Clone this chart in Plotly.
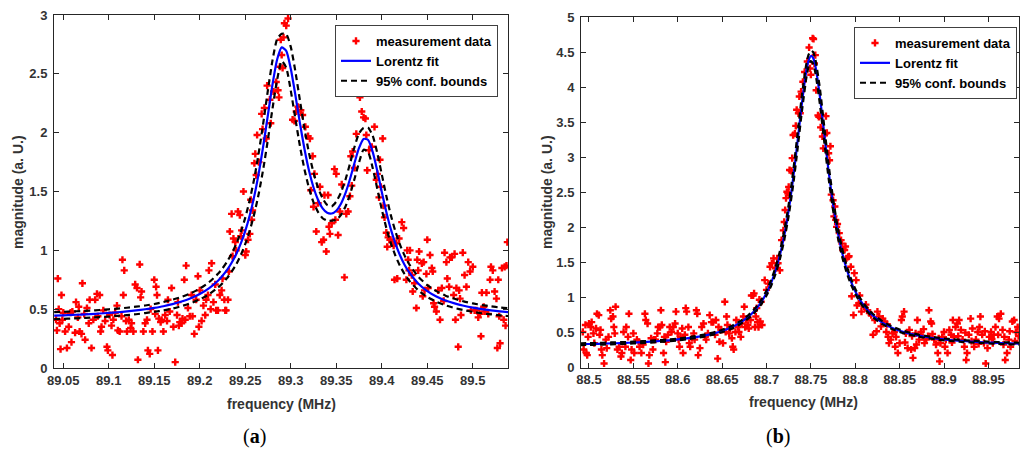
import plotly.graph_objects as go

# ---------------- Panel (a) data ----------------
freq_a = [89.042, 89.043, 89.044, 89.045, 89.046, 89.047, 89.048, 89.049, 89.050, 89.052, 89.054, 89.056, 89.058, 89.059, 89.060,
          89.063, 89.064, 89.066, 89.067, 89.068, 89.070, 89.071, 89.073, 89.074, 89.076, 89.078, 89.079, 89.081, 89.083, 89.085,
          89.087, 89.088, 89.090, 89.091, 89.092, 89.094, 89.096, 89.098, 89.099, 89.101, 89.103, 89.104, 89.105, 89.107, 89.109,
          89.110, 89.112, 89.114, 89.115, 89.116, 89.117, 89.119, 89.120, 89.122, 89.124, 89.125, 89.127, 89.129, 89.131, 89.132,
          89.134, 89.135, 89.136, 89.138, 89.140, 89.142, 89.143, 89.145, 89.146, 89.148, 89.150, 89.151, 89.152, 89.153, 89.154,
          89.155, 89.157, 89.158, 89.160, 89.162, 89.164, 89.165, 89.167, 89.169, 89.171, 89.173, 89.175, 89.176, 89.177, 89.178,
          89.180, 89.181, 89.183, 89.184, 89.185, 89.187, 89.189, 89.191, 89.192, 89.194, 89.196, 89.198, 89.199, 89.200, 89.202,
          89.204, 89.206, 89.207, 89.209, 89.210, 89.212, 89.213, 89.215, 89.217, 89.218, 89.220, 89.222, 89.224, 89.225, 89.227,
          89.228, 89.229, 89.231, 89.232, 89.233, 89.235, 89.236, 89.237, 89.239, 89.240, 89.242, 89.244, 89.245, 89.246, 89.248,
          89.250, 89.251, 89.253, 89.255, 89.256, 89.257, 89.258, 89.260, 89.261, 89.262, 89.263, 89.265, 89.268, 89.269, 89.271,
          89.273, 89.274, 89.277, 89.278, 89.281, 89.284, 89.286, 89.287, 89.288, 89.289, 89.290, 89.291, 89.292, 89.293, 89.295,
          89.297, 89.302, 89.304, 89.306, 89.308, 89.311, 89.313, 89.316, 89.319, 89.321, 89.322, 89.324, 89.325, 89.326, 89.328,
          89.330, 89.332, 89.334, 89.336, 89.337, 89.339, 89.341, 89.342, 89.343, 89.345, 89.348, 89.349, 89.350, 89.352, 89.354,
          89.356, 89.359, 89.361, 89.363, 89.365, 89.366, 89.367, 89.368, 89.370, 89.372, 89.376, 89.378, 89.380, 89.382, 89.383,
          89.384, 89.386, 89.389, 89.392, 89.394, 89.395, 89.397, 89.398, 89.399, 89.401, 89.402, 89.403, 89.405, 89.406, 89.407,
          89.409, 89.411, 89.413, 89.414, 89.416, 89.417, 89.419, 89.422, 89.424, 89.427, 89.428, 89.429, 89.430, 89.431, 89.433,
          89.434, 89.436, 89.438, 89.439, 89.440, 89.441, 89.444, 89.445, 89.446, 89.447, 89.449, 89.450, 89.451, 89.453, 89.455,
          89.456, 89.457, 89.458, 89.460, 89.462, 89.464, 89.466, 89.468, 89.469, 89.471, 89.472, 89.474, 89.475, 89.477, 89.479,
          89.480, 89.481, 89.482, 89.484, 89.485, 89.486, 89.487, 89.489, 89.491, 89.493, 89.495, 89.497, 89.498, 89.500, 89.502,
          89.504, 89.506, 89.508, 89.509, 89.510, 89.512, 89.513, 89.515, 89.517, 89.519, 89.520, 89.522, 89.524, 89.526, 89.527,
          89.528, 89.529, 89.530, 89.532, 89.534, 89.535, 89.536, 89.537, 89.538]
mag_a = [0.41, 0.32, 0.76, 0.50, 0.38, 0.16, 0.62, 0.41, 0.47, 0.31, 0.17, 0.35, 0.47, 0.22, 0.48,
         0.30, 0.56, 0.43, 0.52, 0.31, 0.29, 0.72, 0.46, 0.24, 0.51, 0.38, 0.58, 0.17, 0.41, 0.58,
         0.63, 0.44, 0.62, 0.31, 0.35, 0.49, 0.40, 0.18, 0.15, 0.45, 0.36, 0.11, 0.41, 0.47, 0.53,
         0.32, 0.31, 0.44, 0.92, 0.62, 0.83, 0.40, 0.31, 0.41, 0.34, 0.38, 0.31, 0.71, 0.68, 0.07,
         0.88, 0.60, 0.65, 0.31, 0.38, 0.41, 0.15, 0.12, 0.50, 0.31, 0.75, 0.46, 0.69, 0.62, 0.15,
         0.42, 0.39, 0.41, 0.31, 0.45, 0.40, 0.58, 0.48, 0.68, 0.35, 0.05, 0.45, 0.56, 0.36, 0.39,
         0.38, 0.42, 0.75, 0.41, 0.87, 0.51, 0.44, 0.62, 0.44, 0.29, 0.58, 0.78, 0.35, 0.66, 0.40,
         0.53, 0.45, 0.58, 0.62, 0.83, 0.50, 0.89, 0.56, 0.71, 0.49, 0.49, 0.62, 0.66, 0.76, 0.58,
         0.49, 0.49, 0.58, 0.82, 1.16, 1.31, 0.95, 1.10, 1.07, 1.00, 1.33, 1.30, 1.12, 1.17, 1.50,
         0.96, 0.99, 1.09, 1.14, 1.43, 1.26, 1.34, 1.74, 1.82, 1.64, 1.98, 1.75, 2.16, 2.03, 2.21,
         1.95, 2.40, 2.28, 2.08, 2.35, 2.43, 2.36, 2.30, 2.56, 2.79, 2.66, 2.55, 2.81, 2.93, 2.91,
         2.97, 2.11, 2.10, 2.18, 2.22, 2.19, 2.15, 2.05, 1.97, 1.95, 1.51, 1.80, 1.37, 1.65, 1.16,
         1.40, 1.54, 1.07, 1.09, 1.47, 0.99, 1.47, 1.20, 1.14, 1.23, 1.69, 1.26, 1.65, 1.13, 1.33,
         1.56, 0.77, 1.31, 1.33, 1.46, 1.80, 1.55, 1.84, 1.70, 1.99, 2.30, 2.18, 2.13, 2.12, 1.98,
         1.68, 1.85, 1.88, 2.05, 1.60, 1.65, 1.45, 1.77, 1.54, 1.95, 1.38, 1.28, 1.15, 1.03, 1.11,
         1.09, 1.07, 1.04, 0.75, 1.06, 0.76, 1.10, 1.24, 1.19, 0.75, 1.00, 0.92, 0.83, 1.00, 0.79,
         0.65, 0.72, 0.51, 0.92, 0.83, 0.99, 0.89, 0.61, 0.90, 0.66, 0.80, 1.09, 0.68, 0.96, 0.85,
         0.82, 0.55, 0.52, 0.48, 0.66, 0.41, 0.68, 0.57, 0.98, 0.90, 0.76, 0.69, 0.94, 0.94, 0.62,
         0.97, 0.41, 0.68, 0.18, 0.66, 0.59, 0.45, 0.98, 0.79, 0.69, 0.90, 0.82, 0.49, 0.86, 0.49,
         0.49, 0.43, 0.46, 0.27, 0.64, 0.52, 0.48, 0.64, 0.46, 0.75, 0.86, 0.83, 0.65, 0.59, 0.17,
         0.75, 0.44, 0.21, 0.85, 0.41, 0.86, 0.36, 0.87, 1.07]

fit_freq_a = [89.04, 89.05, 89.06, 89.07, 89.08, 89.09, 89.10, 89.11, 89.12, 89.13, 89.14, 89.15, 89.16, 89.17, 89.18,
              89.19, 89.20, 89.21, 89.22, 89.225, 89.23, 89.235, 89.24, 89.245, 89.25, 89.255, 89.26, 89.265, 89.27, 89.275,
              89.28, 89.285, 89.29, 89.295, 89.30, 89.305, 89.31, 89.315, 89.32, 89.325, 89.33, 89.335, 89.34, 89.345, 89.35,
              89.355, 89.36, 89.365, 89.37, 89.375, 89.38, 89.385, 89.39, 89.395, 89.40, 89.405, 89.41, 89.415, 89.42, 89.425,
              89.43, 89.44, 89.45, 89.46, 89.47, 89.48, 89.49, 89.50, 89.51, 89.52, 89.53, 89.54]
fit_a = [0.445, 0.448, 0.451, 0.454, 0.458, 0.463, 0.468, 0.474, 0.481, 0.489, 0.499, 0.511, 0.525, 0.543, 0.565,
         0.593, 0.629, 0.677, 0.742, 0.784, 0.834, 0.895, 0.967, 1.057, 1.166, 1.301, 1.465, 1.665, 1.899, 2.158,
         2.414, 2.622, 2.725, 2.695, 2.543, 2.322, 2.083, 1.863, 1.678, 1.534, 1.428, 1.357, 1.319, 1.313, 1.337,
         1.394, 1.484, 1.604, 1.742, 1.870, 1.947, 1.938, 1.837, 1.677, 1.496, 1.326, 1.178, 1.057, 0.958, 0.878,
         0.814, 0.719, 0.654, 0.608, 0.574, 0.549, 0.529, 0.513, 0.500, 0.490, 0.481, 0.474]
upper_a = [0.475, 0.478, 0.481, 0.484, 0.488, 0.493, 0.499, 0.505, 0.512, 0.521, 0.531, 0.544, 0.561, 0.581, 0.604,
           0.635, 0.675, 0.728, 0.800, 0.847, 0.904, 0.971, 1.054, 1.155, 1.278, 1.432, 1.616, 1.840, 2.095, 2.368,
           2.619, 2.795, 2.841, 2.838, 2.729, 2.523, 2.277, 2.036, 1.827, 1.660, 1.531, 1.441, 1.386, 1.374, 1.414,
           1.489, 1.598, 1.734, 1.878, 1.994, 2.039, 2.041, 1.974, 1.829, 1.645, 1.462, 1.297, 1.160, 1.048, 0.957,
           0.884, 0.777, 0.704, 0.653, 0.615, 0.588, 0.566, 0.549, 0.535, 0.524, 0.514, 0.507]
lower_a = [0.415, 0.418, 0.421, 0.424, 0.428, 0.433, 0.437, 0.443, 0.450, 0.457, 0.467, 0.478, 0.489, 0.505, 0.526,
           0.551, 0.583, 0.626, 0.684, 0.721, 0.764, 0.819, 0.880, 0.959, 1.054, 1.170, 1.314, 1.490, 1.703, 1.948,
           2.209, 2.449, 2.609, 2.552, 2.357, 2.121, 1.889, 1.690, 1.529, 1.408, 1.325, 1.273, 1.252, 1.252, 1.260,
           1.299, 1.370, 1.474, 1.606, 1.746, 1.855, 1.835, 1.700, 1.525, 1.347, 1.190, 1.059, 0.954, 0.868, 0.799,
           0.744, 0.661, 0.604, 0.563, 0.533, 0.510, 0.492, 0.477, 0.465, 0.456, 0.448, 0.441]

# ---------------- Panel (b) data ----------------
freq_b = [88.493, 88.494, 88.496, 88.497, 88.498, 88.499, 88.500, 88.502, 88.503, 88.505, 88.506, 88.508, 88.509, 88.511, 88.512,
          88.513, 88.514, 88.515, 88.517, 88.519, 88.520, 88.522, 88.524, 88.525, 88.527, 88.528, 88.529, 88.530, 88.532, 88.534,
          88.536, 88.537, 88.539, 88.541, 88.542, 88.544, 88.545, 88.547, 88.548, 88.550, 88.551, 88.554, 88.556, 88.557, 88.559,
          88.561, 88.563, 88.564, 88.566, 88.567, 88.568, 88.570, 88.572, 88.573, 88.575, 88.577, 88.578, 88.580, 88.581, 88.582,
          88.584, 88.585, 88.586, 88.587, 88.589, 88.591, 88.593, 88.595, 88.597, 88.598, 88.600, 88.601, 88.602, 88.603, 88.605,
          88.606, 88.608, 88.609, 88.610, 88.612, 88.613, 88.614, 88.616, 88.618, 88.619, 88.621, 88.622, 88.623, 88.625, 88.627,
          88.629, 88.631, 88.632, 88.634, 88.636, 88.638, 88.640, 88.642, 88.643, 88.645, 88.646, 88.647, 88.649, 88.651, 88.653,
          88.654, 88.655, 88.656, 88.658, 88.659, 88.661, 88.662, 88.663, 88.665, 88.666, 88.668, 88.669, 88.671, 88.672, 88.674,
          88.675, 88.676, 88.677, 88.679, 88.680, 88.682, 88.683, 88.685, 88.686, 88.687, 88.688, 88.689, 88.690, 88.691, 88.692,
          88.693, 88.694, 88.695, 88.698, 88.700, 88.702, 88.704, 88.706, 88.708, 88.710, 88.712, 88.713, 88.715, 88.717, 88.719,
          88.720, 88.721, 88.722, 88.723, 88.724, 88.725, 88.726, 88.728, 88.729, 88.730, 88.732, 88.733, 88.734, 88.736, 88.737,
          88.738, 88.739, 88.741, 88.743, 88.746, 88.748, 88.749, 88.750, 88.752, 88.753, 88.754, 88.755, 88.756, 88.758, 88.759,
          88.761, 88.762, 88.763, 88.764, 88.766, 88.767, 88.768, 88.770, 88.771, 88.772, 88.773, 88.775, 88.776, 88.777, 88.778,
          88.779, 88.780, 88.782, 88.784, 88.785, 88.786, 88.788, 88.789, 88.790, 88.792, 88.793, 88.795, 88.796, 88.798, 88.799,
          88.801, 88.802, 88.804, 88.805, 88.807, 88.810, 88.812, 88.814, 88.816, 88.818, 88.820, 88.822, 88.824, 88.825, 88.827,
          88.829, 88.831, 88.833, 88.835, 88.836, 88.837, 88.838, 88.840, 88.842, 88.844, 88.845, 88.846, 88.848, 88.850, 88.852,
          88.853, 88.855, 88.856, 88.857, 88.859, 88.861, 88.863, 88.864, 88.865, 88.867, 88.868, 88.869, 88.870, 88.872, 88.874,
          88.876, 88.877, 88.878, 88.880, 88.882, 88.883, 88.885, 88.886, 88.887, 88.889, 88.891, 88.893, 88.894, 88.895, 88.896,
          88.898, 88.900, 88.901, 88.902, 88.904, 88.906, 88.908, 88.909, 88.910, 88.911, 88.913, 88.915, 88.916, 88.917, 88.919,
          88.921, 88.923, 88.924, 88.925, 88.926, 88.928, 88.930, 88.931, 88.932, 88.934, 88.936, 88.938, 88.939, 88.940, 88.941,
          88.943, 88.945, 88.946, 88.947, 88.949, 88.951, 88.953, 88.954, 88.955, 88.956, 88.958, 88.960, 88.961, 88.962, 88.964,
          88.966, 88.967, 88.968, 88.969, 88.971, 88.973, 88.974, 88.975, 88.977, 88.979, 88.980, 88.981, 88.983, 88.984]
mag_b = [0.51, 0.26, 0.61, 0.21, 0.18, 0.44, 0.63, 0.58, 0.65, 0.49, 0.35, 0.56, 0.77, 0.75, 0.47,
         0.54, 0.26, 0.18, 0.06, 0.40, 0.28, 0.44, 0.82, 0.70, 0.73, 0.58, 0.49, 0.87, 0.26, 0.30,
         0.16, 0.21, 0.51, 0.30, 0.58, 0.44, 0.77, 0.11, 0.26, 0.49, 0.21, 0.40, 0.37, 0.30, 0.21,
         0.33, 0.77, 0.68, 0.63, 0.06, 0.18, 0.42, 0.26, 0.40, 0.40, 0.49, 0.58, 0.58, 0.82, 0.61,
         0.21, 0.44, 0.08, 0.37, 0.47, 0.58, 0.51, 0.58, 0.63, 0.80, 0.49, 0.40, 0.30, 0.44, 0.56,
         0.21, 0.47, 0.85, 0.80, 0.58, 0.35, 0.30, 0.42, 0.49, 0.40, 0.82, 0.77, 0.18, 0.28, 0.58,
         0.63, 0.44, 0.40, 0.49, 0.75, 0.65, 0.65, 0.47, 0.68, 0.13, 0.58, 0.37, 0.54, 0.35, 0.94,
         0.51, 0.73, 0.61, 0.49, 0.56, 0.42, 0.30, 0.26, 0.51, 0.68, 0.58, 0.51, 0.44, 0.63, 0.73,
         0.87, 0.58, 0.68, 0.61, 0.56, 0.68, 1.03, 1.03, 1.06, 0.58, 0.73, 0.85, 0.65, 0.58, 0.97,
         0.66, 0.94, 0.61, 1.25, 1.11, 1.20, 1.44, 1.49, 1.56, 1.42, 1.56, 1.49, 1.39, 1.82, 1.96,
         2.08, 2.25, 2.42, 2.51, 2.49, 2.58, 2.82, 2.81, 2.99, 3.32, 3.34, 3.45, 3.68, 3.63, 3.87,
         3.63, 3.94, 4.08, 4.22, 4.37, 4.57, 4.27, 4.18, 4.70, 4.69, 4.34, 4.46, 3.96, 3.60, 3.58,
         3.43, 3.60, 3.30, 3.13, 3.34, 3.59, 3.35, 3.06, 2.96, 3.16, 2.47, 2.39, 2.16, 2.30, 2.11,
         2.01, 2.05, 1.92, 1.82, 1.77, 1.68, 1.68, 1.73, 1.56, 1.58, 1.59, 1.44, 1.02, 0.75, 1.35,
         1.25, 0.89, 0.92, 1.03, 0.80, 0.87, 0.90, 0.82, 0.78, 0.75, 0.47, 0.68, 0.52, 0.80, 0.73,
         0.59, 0.70, 0.66, 0.51, 0.62, 0.44, 0.35, 0.40, 0.49, 0.51, 0.30, 0.44, 0.21, 0.35, 0.68,
         0.73, 0.80, 0.36, 0.49, 0.28, 0.54, 0.26, 0.45, 0.14, 0.28, 0.49, 0.33, 0.68, 0.40, 0.51,
         0.44, 0.55, 0.35, 0.40, 0.45, 0.82, 0.66, 0.63, 0.48, 0.40, 0.33, 0.21, 0.42, 0.09, 0.35,
         0.44, 0.51, 0.30, 0.40, 0.21, 0.54, 0.47, 0.36, 0.68, 0.44, 0.58, 0.63, 0.45, 0.68, 0.54,
         0.40, 0.30, 0.50, 0.11, 0.21, 0.47, 0.70, 0.38, 0.56, 0.30, 0.40, 0.51, 0.34, 0.58, 0.73,
         0.47, 0.35, 0.52, 0.06, 0.28, 0.44, 0.51, 0.41, 0.35, 0.47, 0.58, 0.73, 0.47, 0.70, 0.77,
         0.54, 0.33, 0.44, 0.11, 0.21, 0.40, 0.52, 0.30, 0.66, 0.68, 0.38, 0.51, 0.58, 0.45]

fit_freq_b = [88.49, 88.50, 88.51, 88.52, 88.53, 88.54, 88.55, 88.56, 88.57, 88.58, 88.59, 88.60, 88.61, 88.62, 88.63,
              88.64, 88.65, 88.66, 88.67, 88.68, 88.685, 88.69, 88.695, 88.70, 88.705, 88.71, 88.715, 88.72, 88.725, 88.73,
              88.735, 88.74, 88.745, 88.7475, 88.75, 88.7525, 88.755, 88.76, 88.765, 88.77, 88.775, 88.78, 88.785, 88.79, 88.795,
              88.80, 88.805, 88.81, 88.815, 88.82, 88.83, 88.84, 88.85, 88.86, 88.87, 88.88, 88.89, 88.90, 88.91, 88.92,
              88.93, 88.94, 88.95, 88.96, 88.97, 88.98, 88.99]
fit_b = [0.335, 0.338, 0.341, 0.345, 0.349, 0.353, 0.359, 0.365, 0.372, 0.381, 0.391, 0.403, 0.418, 0.436, 0.458,
         0.487, 0.524, 0.573, 0.639, 0.731, 0.791, 0.864, 0.954, 1.065, 1.203, 1.379, 1.602, 1.887, 2.249, 2.699,
         3.229, 3.783, 4.243, 4.386, 4.448, 4.421, 4.309, 3.888, 3.340, 2.800, 2.332, 1.953, 1.654, 1.419, 1.235,
         1.090, 0.974, 0.881, 0.805, 0.742, 0.647, 0.578, 0.528, 0.490, 0.461, 0.438, 0.419, 0.404, 0.392, 0.382,
         0.373, 0.366, 0.359, 0.354, 0.349, 0.345, 0.341]
upper_b = [0.348, 0.351, 0.354, 0.358, 0.362, 0.366, 0.372, 0.378, 0.385, 0.394, 0.404, 0.416, 0.432, 0.450, 0.473,
           0.503, 0.541, 0.592, 0.661, 0.755, 0.817, 0.892, 0.985, 1.100, 1.244, 1.427, 1.658, 1.954, 2.330, 2.796,
           3.339, 3.897, 4.343, 4.469, 4.522, 4.504, 4.406, 4.001, 3.451, 2.899, 2.416, 2.023, 1.713, 1.468, 1.277,
           1.126, 1.006, 0.909, 0.831, 0.766, 0.668, 0.597, 0.545, 0.506, 0.476, 0.452, 0.433, 0.417, 0.405, 0.395,
           0.386, 0.379, 0.372, 0.367, 0.362, 0.358, 0.354]
lower_b = [0.322, 0.325, 0.328, 0.332, 0.336, 0.340, 0.346, 0.352, 0.359, 0.368, 0.378, 0.390, 0.404, 0.422, 0.443,
           0.471, 0.507, 0.554, 0.617, 0.707, 0.765, 0.836, 0.923, 1.030, 1.162, 1.331, 1.546, 1.820, 2.168, 2.602,
           3.119, 3.669, 4.143, 4.303, 4.374, 4.338, 4.212, 3.775, 3.229, 2.701, 2.248, 1.883, 1.595, 1.370, 1.193,
           1.054, 0.942, 0.853, 0.779, 0.718, 0.626, 0.559, 0.511, 0.474, 0.446, 0.424, 0.405, 0.391, 0.379, 0.369,
           0.360, 0.353, 0.346, 0.341, 0.336, 0.332, 0.328]

# ---------------- Tick labels ----------------
xticks_a = [89.05, 89.1, 89.15, 89.2, 89.25, 89.3, 89.35, 89.4, 89.45, 89.5]
xticks_b = [88.5, 88.55, 88.6, 88.65, 88.7, 88.75, 88.8, 88.85, 88.9, 88.95]
yticks_a = [0, 0.5, 1, 1.5, 2, 2.5, 3]
yticks_b = [0, 0.5, 1, 1.5, 2, 2.5, 3, 3.5, 4, 4.5, 5]

legend_names = ["measurement data", "Lorentz fit", "95% conf. bounds"]

FONT = "Liberation Sans"
AXC = "#262626"
TXT = "#333333"

fig = go.Figure()


def add_panel(xs, ys, fx, fy, up, lo, xa, ya, leg):
    fig.add_trace(go.Scatter(x=xs, y=ys, mode="markers", name=legend_names[0],
                             marker=dict(symbol="cross", size=6, color="#ff0000", line=dict(width=0)),
                             xaxis=xa, yaxis=ya, legend=leg))
    fig.add_trace(go.Scatter(x=fx, y=fy, mode="lines", name=legend_names[1],
                             line=dict(color="#0000ff", width=2.2, shape="spline", smoothing=0.6),
                             xaxis=xa, yaxis=ya, legend=leg))
    fig.add_trace(go.Scatter(x=fx, y=up, mode="lines", name=legend_names[2],
                             line=dict(color="#000000", width=2.2, dash="6px,4px", shape="spline", smoothing=0.6),
                             xaxis=xa, yaxis=ya, legend=leg))
    fig.add_trace(go.Scatter(x=fx, y=lo, mode="lines", name=legend_names[2], showlegend=False,
                             line=dict(color="#000000", width=2.2, dash="6px,4px", shape="spline", smoothing=0.6),
                             xaxis=xa, yaxis=ya, legend=leg))


add_panel(freq_a, mag_a, fit_freq_a, fit_a, upper_a, lower_a, "x", "y", "legend")
add_panel(freq_b, mag_b, fit_freq_b, fit_b, upper_b, lower_b, "x2", "y2", "legend2")

W, H = 1020, 449


def fx(px):
    return px / W


def fy(py):
    return (H - py) / H


axis_common = dict(showline=True, linecolor=AXC, linewidth=1, mirror="ticks", ticks="inside",
                   ticklen=5, tickwidth=1, tickcolor=AXC, showgrid=False, zeroline=False,
                   automargin=False,
                   tickfont=dict(family=FONT, size=13, color=TXT, weight="bold"))

legend_common = dict(xanchor="right", yanchor="top", bgcolor="white",
                     bordercolor="#404040", borderwidth=1, tracegroupgap=0, itemwidth=30,
                     font=dict(family=FONT, size=13, color="#000000", weight="bold"))

fig.update_layout(
    template="none",
    width=W, height=H, margin=dict(l=0, r=0, t=0, b=0, autoexpand=False),
    paper_bgcolor="white", plot_bgcolor="white",
    xaxis=dict(domain=[fx(54), fx(508)], range=[89.0398, 89.5387], tickvals=xticks_a,
               ticktext=[f"{v:g}" for v in xticks_a], anchor="y", **axis_common),
    yaxis=dict(domain=[fy(368), fy(15)], range=[0, 3], tickvals=yticks_a,
               ticktext=[f"{v:g}" for v in yticks_a], anchor="x", ticklabelstandoff=3, **axis_common),
    xaxis2=dict(domain=[fx(581), fx(1019)], range=[88.491, 88.9845], tickvals=xticks_b,
                ticktext=[f"{v:g}" for v in xticks_b], anchor="y2", **axis_common),
    yaxis2=dict(domain=[fy(367.7), fy(17.3)], range=[0, 5], tickvals=yticks_b,
                ticktext=[f"{v:g}" for v in yticks_b], anchor="x2", ticklabelstandoff=3, **axis_common),
    legend=dict(x=fx(498), y=fy(25), **legend_common),
    legend2=dict(x=fx(1017), y=fy(27), **legend_common),
    showlegend=True,
)

title_font = dict(family=FONT, size=14, color=TXT, weight="bold")
annots = [
    dict(text="frequency (MHz)", x=fx(281), y=fy(404), font=title_font),
    dict(text="frequency (MHz)", x=fx(803), y=fy(402), font=title_font),
    dict(text="magnitude (a. U.)", x=fx(18), y=fy(192), font=title_font, textangle=-90),
    dict(text="magnitude (a. U.)", x=fx(547), y=fy(192), font=title_font, textangle=-90),
    dict(text="(<b>a</b>)", x=fx(254), y=fy(436), font=dict(family="Liberation Serif", size=20, color="#000000")),
    dict(text="(<b>b</b>)", x=fx(778), y=fy(436), font=dict(family="Liberation Serif", size=20, color="#000000")),
]
for a in annots:
    fig.add_annotation(xref="paper", yref="paper", xanchor="center", yanchor="middle",
                       showarrow=False, **a)

fig.write_html("out.html", config={"displayModeBar": False},
               post_script="document.body.style.margin='0px';document.body.style.overflow='hidden';")
